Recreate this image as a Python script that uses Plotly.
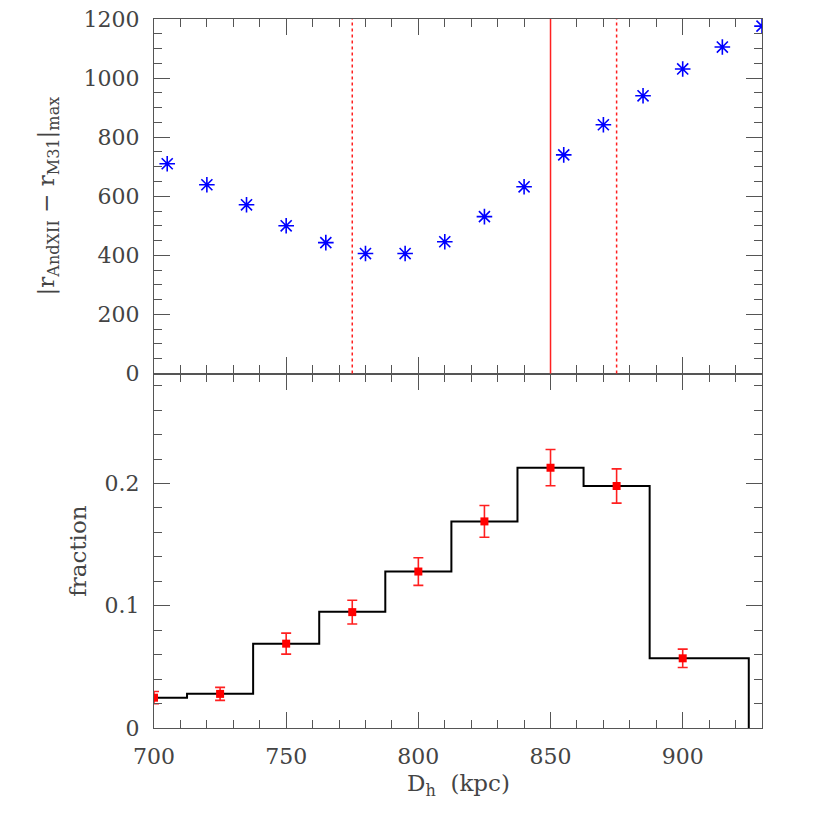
import plotly.graph_objects as go
from plotly.subplots import make_subplots

# Top panel: max separation vs heliocentric distance
d_top = [705, 720, 735, 750, 765, 780, 795, 810, 825, 840, 855, 870, 885, 900, 915, 930]
r_max = [710, 639, 571, 500, 443, 406, 406, 446, 531, 632, 740, 842, 940, 1031, 1105, 1176]

# Vertical reference lines (kpc)
d_best = 850
d_bounds = [775, 875]

# Bottom panel: histogram (bin edges and heights)
bin_edges = [700, 712.5, 737.5, 762.5, 787.5, 812.5, 837.5, 862.5, 887.5, 925]
bin_vals = [0.0248, 0.028, 0.069, 0.095, 0.128, 0.169, 0.213, 0.198, 0.057]

# Bottom panel: points with error bars
d_pts = [700, 725, 750, 775, 800, 825, 850, 875, 900]
frac_pts = [0.0248, 0.0279, 0.069, 0.0948, 0.128, 0.169, 0.213, 0.198, 0.057]
frac_err = [0.005, 0.0053, 0.0086, 0.0097, 0.0113, 0.013, 0.0148, 0.014, 0.0075]

AX = "#555555"
FONT = "DejaVu Serif"

fig = make_subplots(rows=2, cols=1, shared_xaxes=False, vertical_spacing=0)

fig.add_trace(go.Scatter(
    x=d_top, y=r_max, mode="markers",
    marker=dict(symbol="asterisk-open", size=13, color="#0000ff",
                line=dict(color="#0000ff", width=1.6)),
    showlegend=False), row=1, col=1)

# histogram as step line
hx = list(bin_edges[:-1]) + [bin_edges[-1], bin_edges[-1]]
hy = list(bin_vals) + [bin_vals[-1], 0]
fig.add_trace(go.Scatter(
    x=hx, y=hy, mode="lines", line=dict(shape="hv", color="black", width=2),
    showlegend=False), row=2, col=1)

fig.add_trace(go.Scatter(
    x=d_pts, y=frac_pts, mode="markers",
    marker=dict(symbol="square", size=8, color="#ff0000"),
    error_y=dict(type="data", array=frac_err, color="#ff2020", thickness=1.6, width=5),
    showlegend=False), row=2, col=1)

fig.add_vline(x=d_best, line=dict(color="#ff2020", width=1.5), row=1, col=1)
for xb in d_bounds:
    fig.add_vline(x=xb, line=dict(color="#ff2020", width=1.5, dash="dot"), row=1, col=1)

common = dict(showline=True, linecolor=AX, linewidth=1.2, mirror="ticks",
              ticks="inside", tickcolor=AX, tickwidth=1, ticklen=16,
              showgrid=False, zeroline=False, ticklabelstandoff=9,
              ticklabeloverflow="allow", automargin=False,
              tickfont=dict(family=FONT, size=22, color="#444444"))
minor_common = dict(ticks="inside", ticklen=8, tickcolor=AX, tickwidth=1)

for r in (1, 2):
    fig.update_xaxes(range=[700, 930], tick0=700, dtick=50,
                     minor=dict(dtick=10, **minor_common), row=r, col=1, **common)
fig.update_xaxes(showticklabels=False, row=1, col=1)

fig.update_yaxes(range=[0, 1200], tick0=0, dtick=200,
                 minor=dict(dtick=50, **minor_common), row=1, col=1, **common)
fig.update_yaxes(range=[0, 0.29], tick0=0, dtick=0.1,
                 minor=dict(dtick=0.02, **minor_common), row=2, col=1, **common)
fig.update_xaxes(ticklabelstandoff=8, row=2, col=1)

title_font = dict(family=FONT, size=23, color="#444444")
fig.add_annotation(text="|r<sub>AndXII</sub> − r<sub>M31</sub>|<sub>max</sub>",
                   xref="paper", yref="paper", x=-0.174, y=0.75, textangle=-90,
                   showarrow=False, font=title_font, xanchor="center", yanchor="middle")
fig.add_annotation(text="fraction", xref="paper", yref="paper", x=-0.125, y=0.25,
                   textangle=-90, showarrow=False, font=title_font,
                   xanchor="center", yanchor="middle")
fig.add_annotation(text="D<sub>h</sub>  (kpc)", xref="paper", yref="paper", x=0.5, y=-0.08,
                   showarrow=False, font=title_font, xanchor="center", yanchor="middle")

fig.update_layout(width=822, height=822, plot_bgcolor="white", paper_bgcolor="white",
                  margin=dict(l=146, r=68, t=11, b=102, autoexpand=False))

fig.write_html("out.html")
